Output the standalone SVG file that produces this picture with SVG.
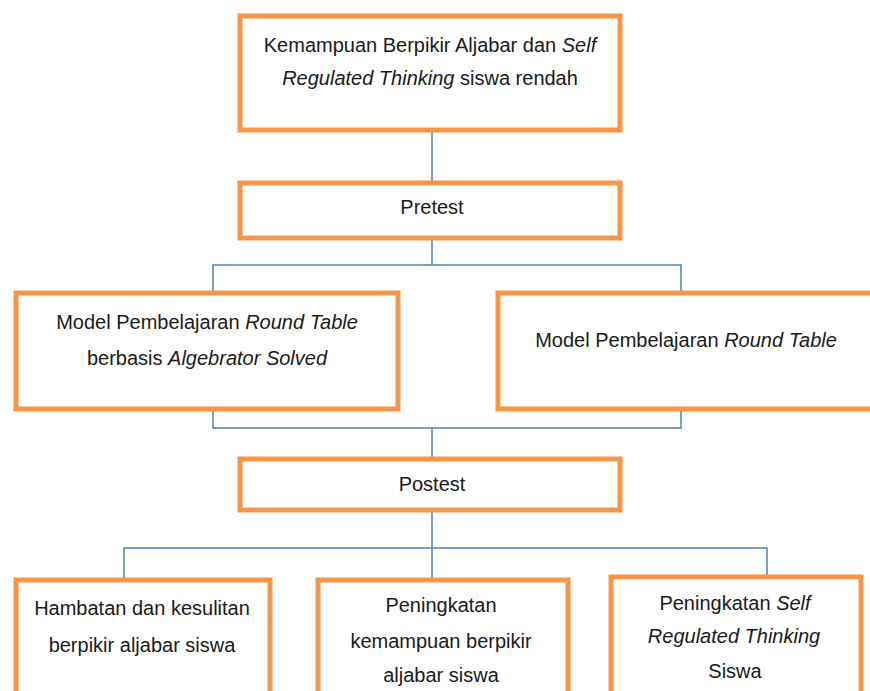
<svg xmlns="http://www.w3.org/2000/svg" width="870" height="691" viewBox="0 0 870 691">
<style>
.box{fill:#fff;stroke:#F79646;stroke-width:5}
.con{fill:none;stroke:#4F81BD;stroke-width:1.5}
text{font-family:"Liberation Sans",Arial,sans-serif;font-size:20px;fill:#1a1a1a;text-anchor:middle}
.i{font-style:italic}
</style>
<rect width="870" height="691" fill="#fff"/>
<g id="connectors">
<path class="con" d="M432 131V183"/>
<path class="con" d="M432 238V265M213 293V265H681V293"/>
<path class="con" d="M213 409V428H681V409M432 428V459"/>
<path class="con" d="M432 510V580M124 580V548H767V577"/>
</g>
<g id="n1">
<rect class="box" x="240" y="16" width="380" height="114"/>
<text x="430" y="52">Kemampuan Berpikir Aljabar dan <tspan class="i">Self</tspan></text>
<text x="430" y="85"><tspan class="i">Regulated Thinking</tspan> siswa rendah</text>
</g>
<g id="pretest">
<rect class="box" x="240" y="183" width="380" height="55"/>
<text x="432" y="214">Pretest</text>
</g>
<g id="modelA">
<rect class="box" x="16" y="293" width="382" height="116"/>
<text x="207" y="329">Model Pembelajaran <tspan class="i">Round Table</tspan></text>
<text x="207" y="365">berbasis <tspan class="i">Algebrator Solved</tspan></text>
</g>
<g id="modelB">
<rect class="box" x="498" y="293" width="380" height="116"/>
<text x="686" y="347">Model Pembelajaran <tspan class="i">Round Table</tspan></text>
</g>
<g id="postest">
<rect class="box" x="240" y="459" width="380" height="51"/>
<text x="432" y="491">Postest</text>
</g>
<g id="out1">
<rect class="box" x="16" y="580" width="254" height="130"/>
<text x="142" y="615">Hambatan dan kesulitan</text>
<text x="142" y="652">berpikir aljabar siswa</text>
</g>
<g id="out2">
<rect class="box" x="318" y="580" width="250" height="130"/>
<text x="441" y="612">Peningkatan</text>
<text x="441" y="648">kemampuan berpikir</text>
<text x="441" y="682">aljabar siswa</text>
</g>
<g id="out3">
<rect class="box" x="611" y="577" width="250" height="130"/>
<text x="735" y="610">Peningkatan <tspan class="i">Self</tspan></text>
<text x="734" y="643" class="i">Regulated Thinking</text>
<text x="735" y="678">Siswa</text>
</g>
</svg>
